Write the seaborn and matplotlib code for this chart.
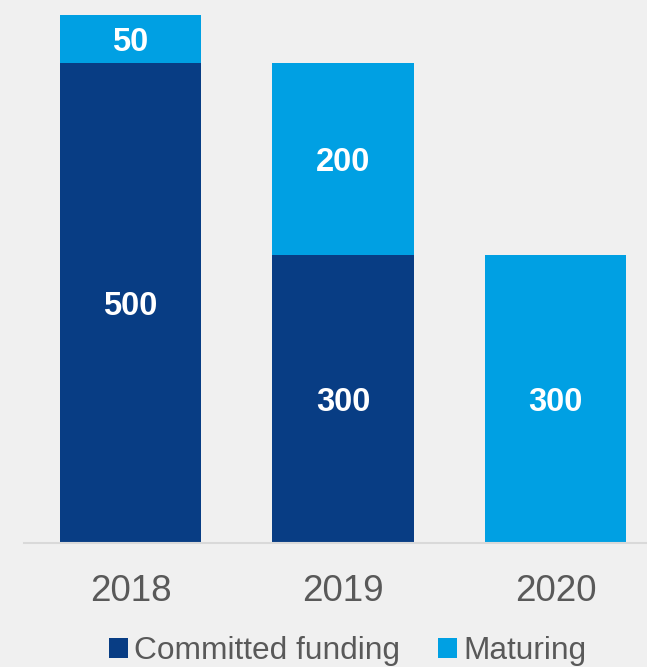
import matplotlib
matplotlib.use("Agg")
import matplotlib.pyplot as plt
from matplotlib.patches import Patch
import seaborn as sns
import pandas as pd

years = ["2018", "2019", "2020"]
committed = [500, 300, 0]
maturing = [50, 200, 300]
series_names = ["Committed funding", "Maturing"]

DARK = "#083D84"
LIGHT = "#00A0E3"
BG = "#F0F0F0"
TEXT = "#595959"

sns.set_theme(style="white")
plt.rcParams["font.family"] = ["Liberation Sans", "DejaVu Sans"]

df = pd.DataFrame({"year": years, "committed": committed, "maturing": maturing})
df["total"] = df["committed"] + df["maturing"]

fig = plt.figure(figsize=(6.47, 6.67), dpi=100, facecolor=BG)
ax = fig.add_axes([24.25 / 647, 124 / 667, 637.5 / 647, 543 / 667])
ax.set_facecolor(BG)

# stacked bars: full height in the light colour, committed part drawn over it
sns.barplot(data=df, x="year", y="total", color=LIGHT, width=0.664,
            saturation=1, ax=ax, linewidth=0)
sns.barplot(data=df, x="year", y="committed", color=DARK, width=0.664,
            saturation=1, ax=ax, linewidth=0)

# value labels centred in each segment (nudged slightly for digit height)
nudge = -3.5
for i, (c, m) in enumerate(zip(committed, maturing)):
    if c > 0:
        ax.text(i, c / 2 + nudge, f"{c}", ha="center", va="center", color="white",
                fontsize=23.5, fontweight="bold")
    if m > 0:
        ax.text(i, c + m / 2 + nudge, f"{m}", ha="center", va="center", color="white",
                fontsize=23.5, fontweight="bold")

ax.set_xlim(-0.5, 2.5)
ax.set_ylim(0, 565.6)
ax.set_xlabel("")
ax.set_ylabel("")
ax.set_yticks([])
for side in ["top", "right", "left"]:
    ax.spines[side].set_visible(False)
ax.spines["bottom"].set_color("#D9D9D9")
ax.spines["bottom"].set_linewidth(1.5)
ax.tick_params(axis="x", length=0, pad=22.5, labelsize=26.5, labelcolor=TEXT)

handles = [Patch(facecolor=DARK, edgecolor="none"), Patch(facecolor=LIGHT, edgecolor="none")]
fig.legend(handles, series_names, loc="center", bbox_to_anchor=(348 / 647, 1 - 651.5 / 667),
           ncol=2, frameon=False, fontsize=22.8, handlelength=0.6, handleheight=0.6,
           handletextpad=0.2, columnspacing=1.2, labelcolor=TEXT,
           borderpad=0.0)

fig.savefig("out.png", dpi=100, facecolor=BG)
